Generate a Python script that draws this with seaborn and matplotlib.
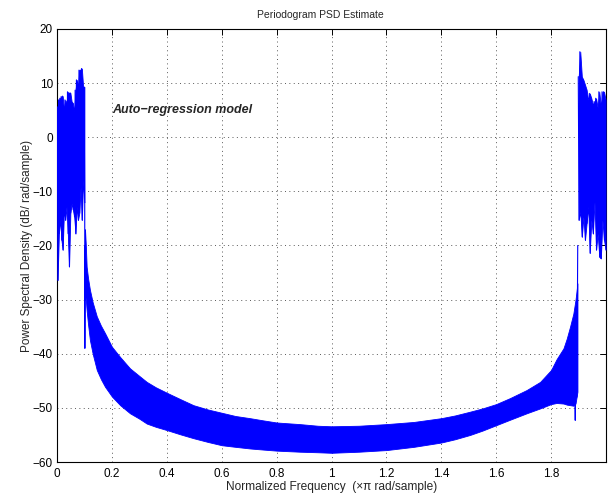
import numpy as np
import pandas as pd
import matplotlib
matplotlib.use("Agg")
import matplotlib.pyplot as plt
import seaborn as sns

# ---- data ----
# left noisy region (normalized freq ~0 .. 0.101): alternating peaks / troughs in dB
left_tops = [5.6, 6.9, 7.2, 7.5, 7.6, 5.0, 6.9, 6.3, 8.4, 6.9, 8.2,
             6.6, 6.3, 4.7, 8.7, 10.6, 9.3, 12.4, 12.4, 12.7, 9.3, 9.3]
left_bottoms = [-26.4, -17.8, -15.3, -19.0, -20.8, -13.4, -15.3, -12.8, -17.8, -23.9, -14.0,
                -12.2, -13.4, -14.7, -17.8, -12.8, -15.3, -14.0, -9.1, -15.3, -7.9, -12.0]
left_range = (0.001, 0.101)

# transition spikes between the regions
trans_left_f = [0.101, 0.1015, 0.1025, 0.104]
trans_left_v = [-12.0, -39.0, -20.0, -30.0]
trans_right_f = [1.886, 1.888, 1.891, 1.894, 1.897]
trans_right_v = [-45.0, -52.3, -35.0, -48.0, -20.0]

# main band (upper / lower envelope of the dense periodogram)
band_f = [0.102, 0.105, 0.108, 0.113, 0.12, 0.13, 0.145, 0.16, 0.175, 0.2, 0.23, 0.266,
          0.3, 0.327, 0.36, 0.4, 0.45, 0.497, 0.55, 0.6, 0.65, 0.703, 0.75, 0.8, 0.885,
          0.95, 1.0, 1.1, 1.2, 1.3, 1.4, 1.45, 1.505, 1.55, 1.6, 1.65, 1.711, 1.76, 1.8,
          1.82, 1.845, 1.857, 1.869, 1.881, 1.889, 1.896]
band_upper = [-17.0, -20.0, -23.9, -26.0, -28.2, -30.5, -33.1, -34.8, -36.2, -38.7, -40.6,
              -42.7, -44.1, -45.2, -46.2, -47.2, -48.4, -49.5, -50.3, -50.9, -51.5, -51.9,
              -52.3, -52.7, -53.0, -53.3, -53.4, -53.3, -53.0, -52.6, -51.9, -51.4, -50.7,
              -50.1, -49.3, -48.2, -46.7, -45.2, -43.0, -41.0, -39.0, -37.2, -35.0, -32.6,
              -30.0, -27.0]
band_lower = [-29.0, -30.0, -32.0, -34.5, -37.5, -40.0, -43.0, -44.7, -46.1, -47.9, -49.5,
              -51.0, -52.0, -52.9, -53.5, -54.1, -54.9, -55.6, -56.3, -56.9, -57.2, -57.5,
              -57.7, -57.9, -58.1, -58.2, -58.3, -58.1, -57.8, -57.2, -56.4, -55.8, -55.0,
              -54.2, -53.2, -52.2, -51.0, -50.1, -49.3, -49.1, -49.2, -49.4, -49.5, -49.6,
              -49.2, -47.0]

# right noisy region (normalized freq ~1.899 .. 2.0)
right_tops = [11.2, 15.8, 11.2, 10.6, 9.7, 8.8, 6.9, 8.1, 7.2, 6.0, 6.6, 7.2,
              5.4, 8.4, 5.7, 8.4, 8.4, 6.9]
right_bottoms = [-15.3, -13.8, -18.4, -14.7, -19.0, -15.9, -12.8, -21.4, -15.3, -17.8, -11.9,
                 -20.8, -17.8, -22.1, -22.4, -15.3, -19.0, -20.8]
right_range = (1.899, 2.0)

xtick_vals = [0, 0.2, 0.4, 0.6, 0.8, 1.0, 1.2, 1.4, 1.6, 1.8]
xtick_labels = ["0", "0.2", "0.4", "0.6", "0.8", "1", "1.2", "1.4", "1.6", "1.8"]
ytick_vals = [-60, -50, -40, -30, -20, -10, 0, 10, 20]
ytick_labels = ["\u221260", "\u221250", "\u221240", "\u221230", "\u221220", "\u221210", "0", "10", "20"]

title = "Periodogram PSD Estimate"
xlabel = "Normalized Frequency  (\u00d7\u03c0 rad/sample)"
ylabel = "Power Spectral Density (dB/ rad/sample)"
annot = "Auto\u2212regression model"

# ---- build zigzag series ----
def zigzag(tops, bottoms, rng):
    vals = []
    for t, b in zip(tops, bottoms):
        vals += [t, b]
    f = np.linspace(rng[0], rng[1], len(vals))
    return pd.DataFrame({"f": f, "v": vals})

def core(tops, bottoms, rng):
    f = np.linspace(rng[0], rng[1], 2 * len(tops))
    fc = (f[0::2] + f[1::2]) / 2
    return pd.DataFrame({"f": fc, "up": tops, "lo": bottoms})

left_df = zigzag(left_tops, left_bottoms, left_range)
right_df = zigzag(right_tops, right_bottoms, right_range)
left_core = core(left_tops, left_bottoms, left_range)
right_core = core(right_tops, right_bottoms, right_range)
tl_df = pd.DataFrame({"f": trans_left_f, "v": trans_left_v})
tr_df = pd.DataFrame({"f": trans_right_f, "v": trans_right_v})
band_df = pd.DataFrame({"f": band_f, "up": band_upper, "lo": band_lower})

# ---- plot ----
sns.set_style("white")
plt.rcParams["font.family"] = ["Liberation Sans", "DejaVu Sans"]
plt.rcParams["axes.unicode_minus"] = True

fig = plt.figure(figsize=(6.16, 4.98), dpi=100)
ax = fig.add_axes([57 / 616, 36 / 498, 549 / 616, 433 / 498])

blue = "#0000ff"
for d in (band_df, left_core, right_core):
    ax.fill_between(d["f"], d["lo"], d["up"], color=blue, lw=0.6,
                    edgecolor=blue, zorder=3)
for d in (left_df, tl_df, tr_df, right_df):
    sns.lineplot(data=d, x="f", y="v", ax=ax, color=blue, lw=0.8, sort=False,
                 estimator=None, zorder=3)

ax.set_xlim(0, 2)
ax.set_ylim(-60, 20)
ax.set_xticks(xtick_vals)
ax.set_xticklabels(xtick_labels)
ax.set_yticks(ytick_vals)
ax.set_yticklabels(ytick_labels)
ax.grid(True, color="0.35", linestyle=(0, (1, 3.5)), lw=0.7)
ax.set_axisbelow(True)
for s in ax.spines.values():
    s.set_color("black")
    s.set_linewidth(0.8)
    s.set_visible(True)
ax.tick_params(direction="in", top=True, right=True, length=4, width=0.7,
               labelsize=8.5, colors="black")
ax.tick_params(axis="x", pad=4.5)
ax.tick_params(axis="y", pad=3)
ax.set_xlabel(xlabel, fontsize=8.6, labelpad=0.5)
ax.set_ylabel(ylabel, fontsize=8.5, labelpad=0)
ax.set_title(title, fontsize=7.5, pad=8, x=(320 - 57) / 549)
ax.text(0.2, 5, annot, fontsize=9.0, fontweight="bold", style="italic", va="center",
        ha="left", zorder=4)

fig.savefig("out.png", dpi=100)
